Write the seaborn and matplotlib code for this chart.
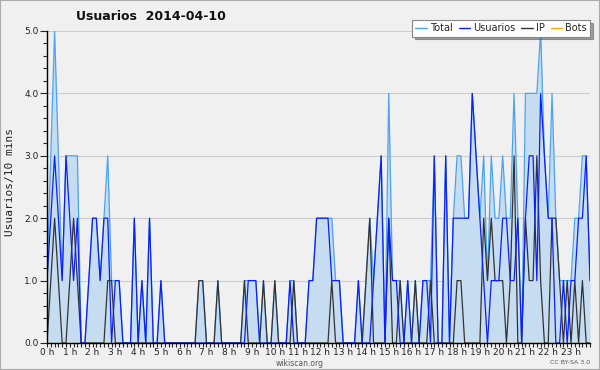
import matplotlib
matplotlib.use("Agg")
import matplotlib.pyplot as plt
import seaborn as sns
import numpy as np
import pandas as pd
from matplotlib.ticker import MultipleLocator

# ---- data (10-minute slots, 144 per day) ----
usuarios = [1,2,3,2,1,3,2,1,2,0, 0,1,2,2,1,2,2,0,1,1, 0,
            0,0,2,0,1,0,2,0,0,1,
            0,0,0,0,0,0,0,0,0,0,
            0,0,0,0,0,0,0,0,0,0,
            0,0,1,1,1,0,0,0,0,0,
            0,0,0,1,0,0,0,0,1,1,
            2,2,2,2,1,1,1,0,0,0,
            0,1,0,0,0,1,2,3,0,2,
            1,1,0,0,1,0,0,0,1,1,
            0,3,0,0,3,0,2,2,2,2,
            2,4,3,2,1,0,1,1,1,2,
            2,1,1,2,0,2,3,3,1,4,
            3,2,2,0,0,1,0,1,1,2,
            2,3,1]
ip = [0,1,2,1,0,0,1,2,1,0, 0,0,0,0,0,0,1,1,0,0, 0,
      0,0,0,0,0,0,0,0,0,0,
      0,0,0,0,0,0,0,0,0,1,
      1,0,0,0,1,0,0,0,0,0,
      0,1,0,0,0,0,1,0,0,1,
      0,0,0,0,1,0,0,0,0,0,
      0,0,0,0,1,0,0,0,0,0,
      0,0,0,1,2,0,0,0,0,2,
      0,0,1,0,0,0,1,0,0,0,
      1,0,0,0,0,0,0,1,1,0,
      0,0,0,0,2,1,2,1,1,1,
      0,1,3,0,0,2,1,1,3,1,
      0,0,2,2,1,0,1,0,1,0,
      1,0,0]
total = [1,3,5,3,1,3,3,3,3,0, 0,1,2,2,1,2,3,1,1,1, 0,
         0,0,2,0,1,0,2,0,0,1,
         0,0,0,0,0,0,0,0,0,1,
         1,0,0,0,1,0,0,0,0,0,
         0,1,1,1,1,0,1,0,0,1,
         0,0,0,1,1,0,0,0,1,1,
         2,2,2,2,2,1,1,0,0,0,
         0,1,0,1,2,1,2,3,0,4,
         1,1,1,0,1,0,1,0,1,1,
         1,3,0,0,3,0,2,3,3,2,
         2,4,3,2,3,1,3,2,2,3,
         2,2,4,2,0,4,4,4,4,5,
         3,2,4,2,1,1,1,1,2,2,
         3,3,1]
bots = [0] * 144
hour_labels = [f"{h} h" for h in range(24)]
title = "Usuarios  2014-04-10"

hours = np.arange(144) / 6.0
df = pd.DataFrame({"hora": hours, "Total": total, "Usuarios": usuarios,
                   "IP": ip, "Bots": bots})

sns.set_style("ticks")
plt.rcParams['font.family'] = ['DejaVu Sans']

bg = "#f0f0f0"
c_total, c_user, c_ip, c_bots = "#4aa3f7", "#0a1eff", "#333333", "#ffa500"
fig = plt.figure(figsize=(6.0, 3.7), dpi=100, facecolor=bg)
ax = fig.add_axes([47/600, 1-343/370, (590-47)/600, (343-31)/370])
ax.set_facecolor(bg)

ax.fill_between(df["hora"], 0, df["Total"], color="#c6dcf0", linewidth=0, zorder=1)
sns.lineplot(data=df, x="hora", y="Bots", ax=ax, color=c_bots, linewidth=0.9, zorder=2)
sns.lineplot(data=df, x="hora", y="Total", ax=ax, color=c_total, linewidth=0.9, zorder=3)
sns.lineplot(data=df, x="hora", y="IP", ax=ax, color=c_ip, linewidth=0.9, zorder=4)
sns.lineplot(data=df, x="hora", y="Usuarios", ax=ax, color=c_user, linewidth=0.9, zorder=5)

ax.set_xlim(0, 143/6)
ax.set_ylim(0, 5)
ax.set_xticks(np.arange(24))
ax.set_xticklabels(hour_labels, fontsize=6.5, color="#222222")
ax.xaxis.set_minor_locator(MultipleLocator(1/6))
ax.set_yticks(np.arange(0, 5.01, 1))
ax.set_yticklabels([f"{v:.1f}" for v in np.arange(0, 5.01, 1)], fontsize=6.5, color="#222222")
ax.yaxis.set_minor_locator(MultipleLocator(0.2))
ax.tick_params(axis="x", which="major", length=3, width=0.8, pad=0.5)
ax.tick_params(axis="x", which="minor", length=3, width=0.8)
ax.tick_params(axis="y", which="major", length=5, width=0.8, pad=1)
ax.tick_params(axis="y", which="minor", length=3, width=0.8)
ax.grid(axis="y", color="#cccccc", linewidth=0.8, zorder=0)
ax.set_axisbelow(True)
for s in ["top", "right"]:
    ax.spines[s].set_visible(False)
for s in ["left", "bottom"]:
    ax.spines[s].set_color("black")
    ax.spines[s].set_linewidth(1.0)
    ax.spines[s].set_zorder(6)
ax.set_xlabel("")
ax.set_ylabel("")

fig.text(10/600, 1-182/370, "Usuarios/10 mins", rotation=90, fontsize=8,
         ha="center", va="center", family="DejaVu Sans Mono", color="#222222")
fig.text(76/600, 1-16/370, title, fontsize=9, fontweight="bold",
         ha="left", va="center", color="#111111")
fig.text(300/600, 1-363/370, "wikiscan.org", fontsize=5.5, ha="center", va="center", color="#555555")
fig.text(590/600, 1-363/370, "CC BY-SA 3.0", fontsize=4.5, ha="right", va="center", color="#555555")

handles = [plt.Line2D([], [], color=c, linewidth=1.0) for c in
           [c_total, c_user, c_ip, c_bots]]
leg = fig.legend(handles, ["Total", "Usuarios", "IP", "Bots"], ncol=4,
                 loc="upper right", bbox_to_anchor=(595/600, 1-15/370),
                 fontsize=7, handlelength=1.2, handletextpad=0.3, columnspacing=0.6,
                 borderpad=0.35, frameon=True, fancybox=False, shadow=True)
leg.get_frame().set_edgecolor("#888888")
leg.get_frame().set_facecolor("white")
leg.get_frame().set_linewidth(0.8)

fig.patches.append(plt.Rectangle((0, 0), 1, 1, transform=fig.transFigure,
                                 fill=False, edgecolor="#aaaaaa", linewidth=1.5))
fig.savefig("out.png", dpi=100, facecolor=bg)
